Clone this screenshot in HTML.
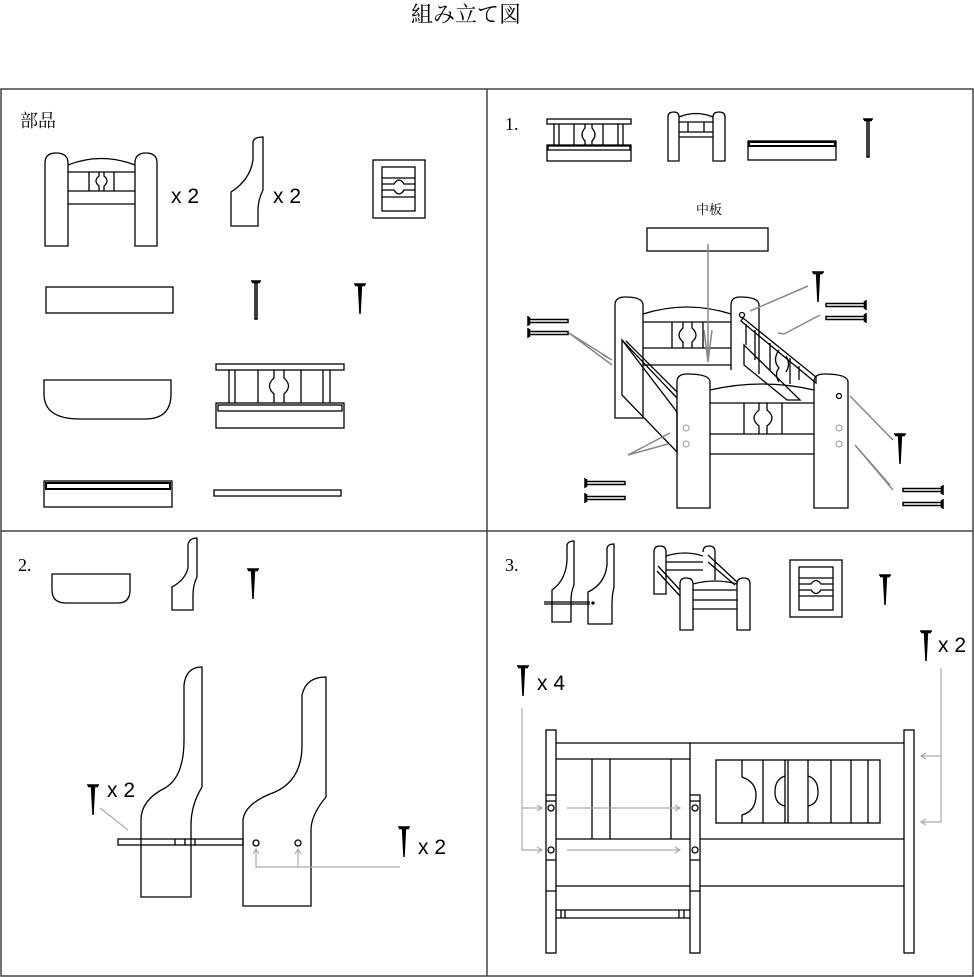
<!DOCTYPE html>
<html><head><meta charset="utf-8"><style>
html,body{margin:0;padding:0;background:#fff;}
svg{display:block;}
text{font-family:"Liberation Sans","Noto Sans CJK JP",sans-serif;}
.s{font-family:"Liberation Serif","Noto Serif CJK SC",serif;}
</style></head><body>
<svg width="974" height="977" viewBox="0 0 974 977" xmlns="http://www.w3.org/2000/svg">
<defs>
<g id="nail"><path d="M-5,0 L5,0 M-4,1.5 L4,1.5 M-1,1 L-1,38 L1,38 L1,1" stroke="#000" stroke-width="1.5" fill="none"/></g>
<g id="tack"><path d="M-6,0 L6,0 M-5,1.5 L5,1.5 M-1.5,1 L0,30 L1.5,1" stroke="#000" stroke-width="1.5" fill="#000"/></g>
<g id="hnail"><path d="M0,-5 L0,5 M1.5,-4 L1.5,4 M1,-1.5 L40,-1.5 L40,1.5 L1,1.5" stroke="#000" stroke-width="1.5" fill="none"/></g>
<g id="hnailR"><path d="M0,-5 L0,5 M-1.5,-4 L-1.5,4 M-1,-1.5 L-40,-1.5 L-40,1.5 L-1,1.5" stroke="#000" stroke-width="1.5" fill="none"/></g>
</defs>
<g fill="none" stroke="#000" stroke-width="1.3">
<text x="466" y="22" font-size="22" text-anchor="middle" stroke="none" fill="#000" class="s">組み立て図</text>
<rect x="1" y="89" width="972" height="887" stroke="#444" stroke-width="1.5"/>
<line x1="487" y1="89" x2="487" y2="976" stroke="#444" stroke-width="1.5"/>
<line x1="1" y1="531" x2="973" y2="531" stroke="#444" stroke-width="1.5"/>

<!-- Panel parts -->
<text x="20" y="127" font-size="18" stroke="none" fill="#000" class="s">部品</text>
<path d="M45,246 L45,163 Q45,153 56,153 Q68,153 68,163 L68,246 Z"/>
<path d="M135,246 L135,163 Q135,153 146,153 Q157,153 157,163 L157,246 Z"/>
<path d="M68,165 Q101,152 135,165"/>
<line x1="68" y1="172" x2="135" y2="172"/><line x1="68" y1="191" x2="135" y2="191"/><line x1="68" y1="204" x2="135" y2="204"/>
<line x1="89" y1="172" x2="89" y2="191"/><line x1="114" y1="172" x2="114" y2="191"/>
<path d="M99,172 L99,176 Q93,181 99,186 L99,191 M104,172 L104,176 Q110,181 104,186 L104,191"/>
<text x="171" y="203" font-size="21" stroke="none" fill="#000">x 2</text>
<path d="M231,226 L231,192 Q250,180 253,160 L253,142 Q254,137 263,137 L263,190 Q258,200 258,210 L258,226 Z"/>
<text x="273" y="203" font-size="21" stroke="none" fill="#000">x 2</text>
<rect x="373" y="160" width="52" height="58"/><rect x="382" y="167" width="33" height="44"/>
<path d="M382,178 L415,178 M382,184 L394,184 Q399,176 404,184 L415,184 M382,190 L394,190 Q399,198 404,190 L415,190 M382,197 L415,197"/>
<rect x="46" y="287" width="127" height="26"/>
<use href="#nail" x="256" y="281"/>
<use href="#tack" x="360" y="284"/>
<path d="M44,380 L171,380 L171,394 Q171,419 145,419 L80,419 Q44,419 44,394 Z"/>
<rect x="216" y="364" width="128" height="6"/>
<path d="M229,370 L229,403 M235,370 L235,403 M258,370 L258,403 M301,370 L301,403 M323,370 L323,403 M330,370 L330,403"/>
<path d="M274,370 L274,378 Q265,386 274,394 L274,403 M284,370 L284,378 Q293,386 284,394 L284,403"/>
<rect x="216" y="403" width="128" height="25"/><rect x="218" y="405" width="124" height="6"/>
<rect x="44" y="481" width="128" height="26"/><rect x="46" y="483" width="124" height="6" stroke-width="2"/>
<rect x="214" y="490" width="127" height="6"/>

<!-- Step 1 -->
<text x="505" y="130" font-size="18" stroke="none" fill="#000" class="s">1.</text>
<rect x="547" y="119" width="84" height="5"/>
<path d="M554,124 L554,145 M559,124 L559,145 M574,124 L574,145 M603,124 L603,145 M618,124 L618,145 M623,124 L623,145 M585,124 L585,128 Q579,135 585,141 L585,145 M592,124 L592,128 Q598,135 592,141 L592,145"/>
<rect x="547" y="145" width="84" height="16"/><rect x="548" y="146" width="82" height="4"/>
<path d="M668,161 L668,117 Q668,112 674,112 Q679,112 679,117 L679,161 Z M713,161 L713,117 Q713,112 719,112 Q725,112 725,117 L725,161 Z M679,117 Q696,110 713,117 M679,122 L713,122 M679,132 L713,132 M679,137 L713,137 M688,122 L688,132 M704,122 L704,132"/>
<rect x="748" y="141" width="88" height="19"/><rect x="749" y="142" width="86" height="4" stroke-width="2"/>
<use href="#nail" x="868" y="119"/>
<text x="709" y="214" font-size="13" text-anchor="middle" stroke="none" fill="#000" class="s">中板</text>
<rect x="647" y="228" width="121" height="23"/>
<!-- back headboard -->
<path d="M615,418 L615,305 Q615,297 625,297 Q643,297 643,305 L643,418 Z"/>
<path d="M731,370 L731,305 Q731,297 740,297 Q759,297 759,305 L759,374"/>
<path d="M643,314 Q687,300 731,314 M643,322 L731,322 M643,348 L731,348 M643,365 L731,365 M672,322 L672,348 M703,322 L703,348 M683,322 L683,328 Q675,335 683,342 L683,348 M692,322 L692,328 Q700,335 692,342 L692,348"/>
<!-- left diagonal rail -->
<path d="M622,340 L622,395 L677,452 L677,412 Z M622,340 L677,398 M626,341 L677,392"/>
<!-- right diagonal rail -->
<path d="M743,318 L816,377 L816,383 L741,321 Z M746,324 L746,345 M755,330 L755,360 M770,343 L770,370 M790,358 L790,384 M799,366 L799,380 M744,345 L744,365 L787,400 L800,400 Z"/>
<path d="M779,350 Q772,360 779,368 Q774,374 779,382 M786,356 Q791,364 786,372"/>
<circle cx="742" cy="315" r="2.5"/>
<!-- front headboard -->
<path d="M677,508 L677,382 Q677,374 687,374 Q710,374 710,382 L710,508 Z"/>
<path d="M814,508 L814,382 Q814,374 824,374 Q848,374 848,382 L848,508 Z"/>
<path d="M710,390 Q762,378 814,390 M710,403 L814,403 M710,434 L814,434 M710,454 L814,454 M744,403 L744,434 M782,403 L782,434 M759,403 L759,410 Q749,418 759,426 L759,434 M767,403 L767,410 Q777,418 767,426 L767,434"/>
<circle cx="839" cy="396" r="2.5"/>
<g stroke="#999" stroke-width="1"><circle cx="686" cy="428" r="3"/><circle cx="686" cy="444" r="3"/><circle cx="839" cy="428" r="3"/><circle cx="839" cy="444" r="3"/></g>
<g stroke="#888" stroke-width="1.5">
<path d="M708,244 L708,362 M704,330 L708,362 L712,330"/>
<path d="M569,333 L612,360 L603,355 M569,333 L612,365"/>
<path d="M808,286 L750,311 M820,315 L784,334 L778,333"/>
<path d="M628,455 L668,444 M628,455 L670,433 M855,445 L893,490 M855,445 L890,485 M850,396 L893,440"/>
</g>
<use href="#hnail" x="528" y="321"/><use href="#hnail" x="528" y="333"/>
<use href="#tack" x="818" y="272"/>
<use href="#hnailR" x="866" y="305"/><use href="#hnailR" x="866" y="318"/>
<use href="#hnail" x="585" y="483"/><use href="#hnail" x="585" y="498"/>
<use href="#tack" x="900" y="434"/>
<use href="#hnailR" x="943" y="490"/><use href="#hnailR" x="943" y="504"/>

<!-- Step 2 -->
<text x="18" y="571" font-size="18" stroke="none" fill="#000" class="s">2.</text>
<path d="M52,574 L130,574 L130,590 Q130,603 118,603 L66,603 Q52,603 52,590 Z"/>
<path d="M172,610 L172,587 Q185,580 188,568 L188,545 Q189,538 197,538 L197,577 Q193,585 193,595 L193,610 Z"/>
<use href="#tack" x="253" y="569"/>
<path d="M141,897 L141,820 Q141,800 165,788 Q184,777 184,740 L184,685 Q186,667 202,667 L202,787 Q191,805 191,825 L191,897 Z"/>
<path d="M243,906 L243,820 Q245,803 275,792 Q302,780 302,745 L302,695 Q306,677 326,677 L326,797 Q311,815 311,830 L311,906 Z"/>
<rect x="118" y="839" width="125" height="6"/>
<path d="M175,839 L175,845 M185,839 L185,845 M195,839 L195,845"/>
<circle cx="256" cy="843" r="3"/><circle cx="298" cy="843" r="3"/>
<g stroke="#aaa" stroke-width="1.2"><path d="M256,850 L256,867 L400,867 M298,850 L298,867 M253,854 L256,849 L259,854 M295,854 L298,849 L301,854"/><path d="M100,808 L128,830"/></g>
<use href="#tack" x="93" y="785"/>
<text x="107" y="797" font-size="21" stroke="none" fill="#000">x 2</text>
<use href="#tack" x="404" y="827"/>
<text x="418" y="854" font-size="21" stroke="none" fill="#000">x 2</text>

<!-- Step 3 -->
<text x="505" y="571" font-size="18" stroke="none" fill="#000" class="s">3.</text>
<path d="M552,622 L552,590 Q566,580 567,560 L567,545 Q568,541 574,541 L574,585 Q571,592 571,600 L571,622 Z"/>
<path d="M588,624 L588,592 Q605,584 607,565 L607,548 Q608,544 614,544 L614,587 Q612,595 612,604 L612,624 Z"/>
<path d="M544,602 L590,602 M544,604 L590,604"/><circle cx="593" cy="603" r="1" fill="#000"/>
<path d="M654,594 L654,552 Q654,546 660,546 Q666,546 666,552 L666,594 Z M666,556 Q685,550 703,556 M666,562 L703,562 M666,570 L703,570 M703,552 Q703,546 709,546 Q715,546 715,552 L715,580"/>
<path d="M658,566 L680,590 M657,571 L680,596 M708,555 L737,582 M708,562 L735,585"/>
<path d="M680,630 L680,584 Q680,578 686,578 Q693,578 693,584 L693,630 Z M737,630 L737,584 Q737,578 744,578 Q750,578 750,584 L750,630 Z M693,584 Q715,578 737,584 M693,590 L737,590 M693,600 L737,600 M693,609 L737,609"/>
<rect x="790" y="560" width="52" height="57"/><rect x="799" y="567" width="34" height="43"/>
<path d="M799,578 L833,578 M799,584 L811,584 Q816,577 821,584 L833,584 M799,590 L811,590 Q816,597 821,590 L833,590 M799,596 L833,596"/>
<use href="#tack" x="885" y="575"/>
<use href="#tack" x="926" y="631"/>
<text x="938" y="652" font-size="21" stroke="none" fill="#000">x 2</text>
<use href="#tack" x="523" y="666"/>
<text x="537" y="690" font-size="21" stroke="none" fill="#000">x 4</text>
<!-- front view -->
<rect x="546" y="730" width="10" height="223"/>
<rect x="904" y="730" width="10" height="223"/>
<rect x="690" y="795" width="10" height="158"/>
<path d="M556,743 L904,743 M690,743 L690,795 M556,759 L690,759 M592,759 L592,839 M610,759 L610,839 M671,759 L671,839 M556,839 L690,839 M700,839 L904,839 M556,886 L690,886 M700,886 L904,886 M556,910 L690,910 M556,918 L690,918 M561,910 L561,918 M565,910 L565,918 M679,910 L679,918 M684,910 L684,918"/>
<path d="M546,795 L556,795 M546,801 L556,801 M546,860 L556,860 M546,891 L556,891 M690,801 L700,801 M690,860 L700,860 M690,891 L700,891"/>
<circle cx="551" cy="808" r="3"/><circle cx="551" cy="850" r="3"/><circle cx="695" cy="808" r="3"/><circle cx="695" cy="850" r="3"/>
<rect x="716" y="760" width="164" height="63"/>
<path d="M742,760 L742,777 Q756,782 756,795 Q756,811 742,815 L742,823 M763,760 L763,823 M785,760 L785,823 M788,760 L788,823 M808,760 L808,823 M831,760 L831,823 M851,760 L851,823 M868,760 L868,823"/>
<path d="M785,776 Q775,779 775,792 Q775,804 785,806 M808,776 Q818,779 818,792 Q818,804 808,806"/>
<g stroke="#aaa" stroke-width="1.2">
<path d="M522,708 L522,850 L541,850 M522,808 L541,808 M567,808 L680,808 M567,850 L680,850"/>
<path d="M941,668 L941,822 L922,822 M941,756 L922,756"/>
<path d="M537,805 L542,808 L537,811 M537,847 L542,850 L537,853 M675,805 L680,808 L675,811 M675,847 L680,850 L675,853 M926,753 L921,756 L926,759 M926,819 L921,822 L926,825"/>
</g>
</g>
</svg>
</body></html>
